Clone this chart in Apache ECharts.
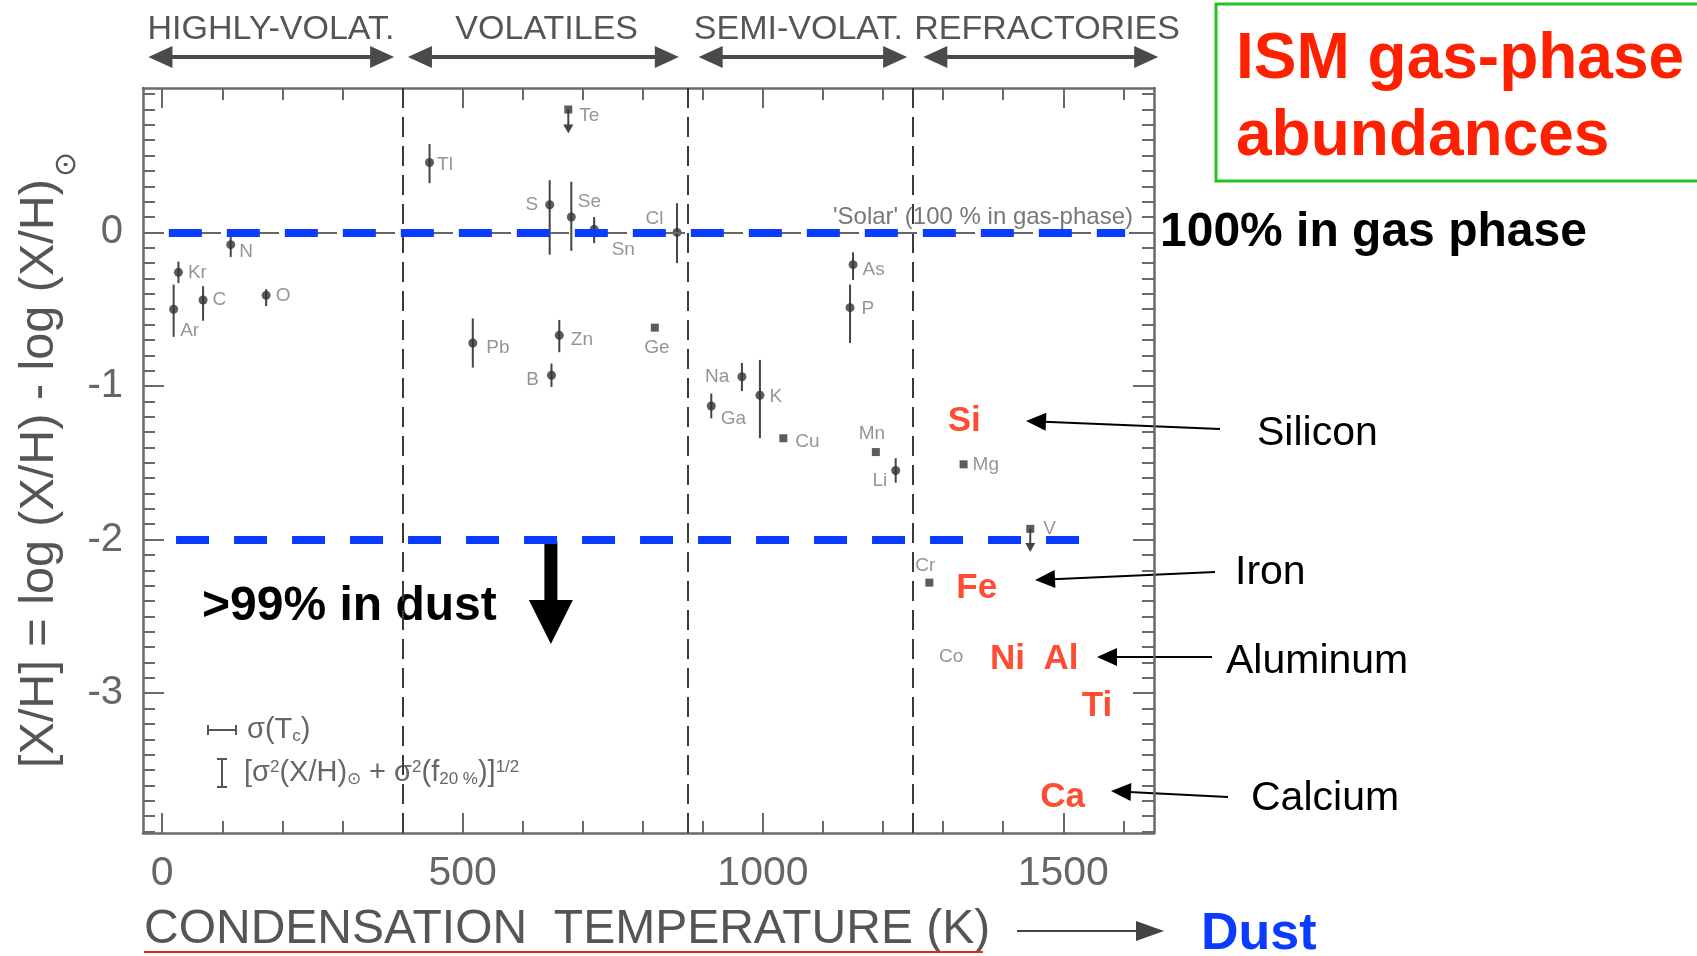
<!DOCTYPE html>
<html>
<head>
<meta charset="utf-8">
<script src="https://cdn.jsdelivr.net/npm/echarts@6/dist/echarts.min.js"></script>
<style>
  html, body { margin: 0; padding: 0; background: #ffffff; }
  #chart { width: 1697px; height: 956px; }
</style>
</head>
<body>
<div id="chart"></div>
<script>
// ---- Gas-phase abundances versus condensation temperature ----
const elements = ['Ar', 'Kr', 'C', 'N', 'O', 'Tl', 'Te', 'S', 'Se', 'Sn', 'Cl', 'Pb', 'Zn', 'B', 'Ge',
                  'Na', 'Ga', 'K', 'Cu', 'As', 'P', 'Mn', 'Li', 'Mg', 'V', 'Cr', 'Co'];
// condensation temperature (K)
const tc = [19, 27, 68, 114, 173, 445, 676, 645, 681, 719, 857, 517, 661, 648, 820,
            965, 914, 995, 1034, 1150, 1145, 1188, 1221, 1334, 1445, 1277, 1352];
// [X/H] = log(X/H) - log(X/H)_sun
const abund = [-0.50, -0.26, -0.44, -0.08, -0.41, 0.455, 0.80, 0.18, 0.10, 0.02, 0.00, -0.72, -0.67, -0.93, -0.62,
               -0.94, -1.13, -1.06, -1.34, -0.21, -0.49, -1.43, -1.55, -1.51, -1.93, -2.28, -2.76];
// error bar half-lengths (null: no error bar drawn)
const errUp   = [0.16, 0.07, 0.09, 0.05, 0.04, 0.12, null, 0.16, 0.23, 0.08, 0.19, 0.16, 0.10, 0.076, null,
                 0.09, 0.08, 0.23, null, 0.08, 0.15, null, 0.08, null, null, null, null];
const errDown = [0.18, 0.07, 0.135, 0.08, 0.07, 0.135, null, 0.325, 0.22, 0.09, 0.20, 0.16, 0.11, 0.076, null,
                 0.093, 0.08, 0.28, null, 0.10, 0.23, null, 0.08, null, null, null, null];
// upper limits (arrow down to tip value)
const limitElements = ['Te', 'V'];
const limitTip = [0.644, -2.08];
// points whose marker is hidden behind an overlying label
const hiddenMarkers = ['Co'];

// elements mostly locked up in dust
const dustElements = ['Si', 'Fe', 'Ni', 'Al', 'Ti', 'Ca'];
const dustTc = [1335, 1356, 1407, 1496, 1556, 1499];
const dustAbund = [-1.228, -2.318, -2.778, -2.778, -3.088, -3.678];

// volatility classes along the top
const zoneNames = ['HIGHLY-VOLAT.', 'VOLATILES', 'SEMI-VOLAT.', 'REFRACTORIES'];
const zoneFrom = [-23, 409, 893, 1267];
const zoneTo = [386, 860, 1240, 1658];
const zoneLabelAt = [181, 640, 1059, 1473];
const zoneBounds = [400, 875, 1250];

// reference levels: 100 % in gas phase and 1 % in gas phase
const gasLevel = 0, gasSpan = [11, 1603];
const dustLevel = -2, dustSpan = [23, 1533];

// axis ticks
const xTicks = [0, 500, 1000, 1500];
const yTicks = [-3, -2, -1, 0];
const xMinor = [];
for (let v = 0; v <= 1600; v += 100) xMinor.push(v);
const yMinor = [];
for (let i = -39; i <= 9; i++) yMinor.push(i / 10);

// ---- layout / style ----
const FONT = '"Liberation Sans", Arial, Helvetica, sans-serif';
const FRAME = '#6a6a6a';
const RED = '#ff2000';
const BLUE = '#0a3cff';

const labelSpec = {
  Ar: ['right', [-3, 22]], Kr: ['right', [0, 0]], C: ['right', [0, 0]], N: ['right', [-1, 7]],
  O: ['right', [0, 0]], Tl: ['right', [-2, 2]], Te: ['right', [2, 6]], S: ['left', [-2, 0]],
  Se: ['right', [-3, -15]], Sn: ['right', [8, 20]], Cl: ['left', [-4, -14]], Pb: ['right', [4, 5]],
  Zn: ['right', [2, 4]], B: ['left', [-3, 5]], Ge: ['bottom', [2, 2]], Na: ['left', [-3, 0]],
  Ga: ['right', [0, 13]], K: ['right', [0, 2]], Cu: ['right', [3, 4]], As: ['right', [0, 5]],
  P: ['right', [2, 1]], Mn: ['top', [-4, 0]], Li: ['left', [1, 10]], Mg: ['right', [0, 0]],
  V: ['right', [4, 0]], Cr: ['top', [-4, 2]], Co: ['left', [-6, 0]]
};

const pointData = elements.map((el, i) => {
  const spec = labelSpec[el];
  const bare = errUp[i] === null;
  return {
    name: el,
    value: [tc[i], abund[i]],
    symbol: bare ? 'rect' : 'circle',
    symbolSize: hiddenMarkers.includes(el) ? 0 : (bare ? 8 : 9),
    label: { position: spec[0], offset: spec[1] }
  };
});

const errData = [];
elements.forEach((el, i) => {
  if (errUp[i] !== null) errData.push([tc[i], abund[i] - errDown[i], abund[i] + errUp[i]]);
});

const limitData = limitElements.map((el, k) => {
  const i = elements.indexOf(el);
  return [tc[i], abund[i], limitTip[k]];
});

const dustData = dustElements.map((el, i) => {
  const item = { name: el, value: [dustTc[i], dustAbund[i]] };
  if (el === 'Ni') {
    item.label = { backgroundColor: '#ffffff', padding: [2, 4, 2, 26], offset: [-11, 0] };
  }
  return item;
});

function xAxisDef(pos, showLine, ticks, len, labels) {
  return {
    type: 'value', min: -32, max: 1651, position: pos,
    axisLine: { show: showLine, onZero: false, lineStyle: { color: FRAME, width: 2.5 } },
    axisTick: { show: true, inside: true, length: len, customValues: ticks, lineStyle: { color: FRAME, width: 2 } },
    axisLabel: labels ? { show: true, customValues: ticks, formatter: v => String(v), fontSize: 41, color: '#666', fontFamily: FONT, margin: 20 } : { show: false },
    splitLine: { show: false }, minorTick: { show: false }
  };
}
function yAxisDef(pos, showLine, ticks, len, labels) {
  return {
    type: 'value', min: -3.91, max: 0.94, position: pos,
    axisLine: { show: showLine, onZero: false, lineStyle: { color: FRAME, width: 2.5 } },
    axisTick: { show: true, inside: true, length: len, customValues: ticks, lineStyle: { color: FRAME, width: 2 } },
    axisLabel: labels ? { show: true, customValues: ticks, formatter: v => String(v), fontSize: 40, color: '#666', fontFamily: FONT, margin: 20 } : { show: false },
    splitLine: { show: false }, minorTick: { show: false }
  };
}

const chart = echarts.init(document.getElementById('chart'), null, { renderer: 'canvas', width: 1697, height: 956 });

chart.setOption({
  animation: false,
  backgroundColor: '#ffffff',
  grid: { left: 143, right: 543, top: 88, bottom: 123, containLabel: false },
  xAxis: [
    xAxisDef('bottom', true, xTicks, 20, true),
    xAxisDef('top', true, xTicks, 20, false),
    xAxisDef('bottom', false, xMinor, 12, false),
    xAxisDef('top', false, xMinor, 12, false)
  ],
  yAxis: [
    yAxisDef('left', true, yTicks, 21, true),
    yAxisDef('right', true, yTicks, 21, false),
    yAxisDef('left', false, yMinor, 12, false),
    yAxisDef('right', false, yMinor, 12, false)
  ],
  series: [
    {
      // error bars
      type: 'custom', z: 2, silent: true,
      data: errData,
      encode: { x: 0, y: [1, 2] },
      renderItem: function (params, api) {
        const p1 = api.coord([api.value(0), api.value(1)]);
        const p2 = api.coord([api.value(0), api.value(2)]);
        return { type: 'line', shape: { x1: p1[0], y1: p1[1], x2: p2[0], y2: p2[1] },
                 style: { stroke: '#444', lineWidth: 2 } };
      }
    },
    {
      // upper limits
      type: 'custom', z: 2, silent: true,
      data: limitData,
      encode: { x: 0, y: [1, 2] },
      renderItem: function (params, api) {
        const p1 = api.coord([api.value(0), api.value(1)]);
        const p2 = api.coord([api.value(0), api.value(2)]);
        return { type: 'group', children: [
          { type: 'line', shape: { x1: p1[0], y1: p1[1], x2: p2[0], y2: p2[1] - 8 }, style: { stroke: '#444', lineWidth: 2 } },
          { type: 'polygon', shape: { points: [[p2[0] - 5, p2[1] - 9], [p2[0] + 5, p2[1] - 9], [p2[0], p2[1]]] }, style: { fill: '#444' } }
        ] };
      }
    },
    {
      // measured elements
      type: 'scatter', z: 3,
      data: pointData,
      itemStyle: { color: '#333' },
      label: { show: true, formatter: '{b}', fontSize: 19, color: '#7a7a7a', fontFamily: FONT, distance: 5 },
      markLine: {
        silent: true, symbol: ['none', 'none'], label: { show: false }, animation: false,
        lineStyle: { color: '#3a3a3a', width: 2, type: [20, 9] },
        data: zoneBounds.map(v => ({ xAxis: v })).concat([{ yAxis: gasLevel, lineStyle: { color: '#666', width: 2, type: [20, 9] } }])
      }
    },
    {
      // highlighted refractory elements
      type: 'scatter', z: 4, symbolSize: 0,
      data: dustData,
      label: { show: true, position: 'inside', formatter: '{b}', fontSize: 35, fontWeight: 'bold', color: RED, fontFamily: FONT }
    },
    {
      // reference levels
      type: 'line', z: 5, data: [],
      markLine: {
        silent: true, symbol: ['none', 'none'], label: { show: false }, animation: false,
        lineStyle: { color: BLUE, width: 8, type: [33, 25], cap: 'butt' },
        data: [
          [{ coord: [gasSpan[0], gasLevel] }, { coord: [gasSpan[1], gasLevel] }],
          [{ coord: [dustSpan[0], dustLevel] }, { coord: [dustSpan[1], dustLevel] }]
        ]
      }
    }
  ]
});

// ---- annotations ----
function arrow(x1, y1, x2, y2, width, headLen, headHalf, color) {
  const dx = x2 - x1, dy = y2 - y1, L = Math.hypot(dx, dy);
  const ux = dx / L, uy = dy / L;
  const bx = x2 - ux * headLen, by = y2 - uy * headLen;
  return [
    { type: 'line', silent: true, shape: { x1: x1, y1: y1, x2: bx + ux * 2, y2: by + uy * 2 }, style: { stroke: color, lineWidth: width } },
    { type: 'polygon', silent: true, shape: { points: [[x2, y2], [bx - uy * headHalf, by + ux * headHalf], [bx + uy * headHalf, by - ux * headHalf]] }, style: { fill: color } }
  ];
}
// y is the centre of the capital letters
function text(x, y, str, size, color, opts) {
  const rotated = opts && opts.el && opts.el.rotation;
  return Object.assign({
    type: 'text', x: x, y: rotated ? y : y + 0.085 * size, silent: true,
    style: Object.assign({ text: str, fontSize: size, fill: color, fontFamily: FONT, align: 'left', verticalAlign: 'middle' }, (opts && opts.style) || {})
  }, (opts && opts.el) || {});
}

const px = v => chart.convertToPixel({ gridIndex: 0 }, [v, 0])[0];
const py = v => chart.convertToPixel({ gridIndex: 0 }, [0, v])[1];

const g = [];

// volatility classes with double arrows
zoneNames.forEach((name, i) => {
  const a = px(zoneFrom[i]), b = px(zoneTo[i]);
  g.push(text(px(zoneLabelAt[i]), 27, name, 34, '#555', { style: { align: 'center' } }));
  g.push({ type: 'line', silent: true, shape: { x1: a + 20, y1: 57, x2: b - 20, y2: 57 }, style: { stroke: '#4a4a4a', lineWidth: 4 } });
  g.push({ type: 'polygon', silent: true, shape: { points: [[a, 57], [a + 24, 46], [a + 24, 68]] }, style: { fill: '#4a4a4a' } });
  g.push({ type: 'polygon', silent: true, shape: { points: [[b, 57], [b - 24, 46], [b - 24, 68]] }, style: { fill: '#4a4a4a' } });
});

// solar reference label
g.push(text(px(1616), py(gasLevel) - 17, "'Solar' (100 % in gas-phase)", 24, '#777', { style: { align: 'right' } }));

// error legend
g.push({ type: 'line', silent: true, shape: { x1: 207, y1: 730, x2: 237, y2: 730 }, style: { stroke: '#555', lineWidth: 2 } });
g.push({ type: 'line', silent: true, shape: { x1: 208, y1: 725, x2: 208, y2: 735 }, style: { stroke: '#555', lineWidth: 2 } });
g.push({ type: 'line', silent: true, shape: { x1: 236, y1: 725, x2: 236, y2: 735 }, style: { stroke: '#555', lineWidth: 2 } });
g.push({ type: 'line', silent: true, shape: { x1: 222, y1: 759, x2: 222, y2: 787 }, style: { stroke: '#555', lineWidth: 2 } });
g.push({ type: 'line', silent: true, shape: { x1: 217, y1: 759, x2: 227, y2: 759 }, style: { stroke: '#555', lineWidth: 2 } });
g.push({ type: 'line', silent: true, shape: { x1: 217, y1: 787, x2: 227, y2: 787 }, style: { stroke: '#555', lineWidth: 2 } });
const legRich = {
  sub: { fontSize: 17, fill: '#666', verticalAlign: 'bottom', fontFamily: FONT },
  sup: { fontSize: 17, fill: '#666', verticalAlign: 'top', fontFamily: FONT }
};
g.push(text(247, 728, 'σ(T{sub|c})', 29, '#666', { style: { rich: legRich } }));
g.push(text(244, 771, '[σ{sup|2}(X/H){sub|⊙} + σ{sup|2}(f{sub|20 %})]{sup|1/2}', 29, '#666', { style: { rich: legRich } }));

// axis titles
g.push(text(40, 460, '[X/H] = log (X/H) - log (X/H){s|⊙}', 48.5, '#555', {
  style: { align: 'center', lineHeight: 84, rich: { s: { fontSize: 30, fill: '#555', verticalAlign: 'bottom', fontFamily: FONT, padding: [0, 0, 0, 2] } } },
  el: { rotation: Math.PI / 2 }
}));
g.push(text(144, 926, 'CONDENSATION  TEMPERATURE (K)', 48, '#555'));
g.push({ type: 'line', silent: true, shape: { x1: 144, y1: 952, x2: 983, y2: 952 }, style: { stroke: '#e0301a', lineWidth: 2 } });
arrow(1017, 931, 1164, 931, 2, 28, 10, '#444').forEach(e => g.push(e));
g.push(text(1201, 930, 'Dust', 52, BLUE, { style: { fontWeight: 'bold' } }));

// level captions
g.push(text(1160, 229, '100% in gas phase', 48, '#000', { style: { fontWeight: 'bold' } }));
g.push(text(202, 603, '>99% in dust', 48, '#000', { style: { fontWeight: 'bold' } }));
// arrow pointing down from the 1 % level
const arrowX = px(647);
g.push({ type: 'rect', silent: true, shape: { x: arrowX - 6.5, y: py(dustLevel) + 2, width: 13, height: 63 }, style: { fill: '#000' } });
g.push({ type: 'polygon', silent: true, shape: { points: [[arrowX - 22, 600], [arrowX + 22, 600], [arrowX, 644]] }, style: { fill: '#000' } });

// title box
g.push({ type: 'rect', silent: true, shape: { x: 1216, y: 4, width: 520, height: 177 }, style: { fill: 'none', stroke: '#22c322', lineWidth: 3 } });
g.push(text(1236, 55, 'ISM gas-phase', 64, RED, { style: { fontWeight: 'bold' } }));
g.push(text(1236, 132, 'abundances', 64, RED, { style: { fontWeight: 'bold' } }));

// call-outs for the refractory elements
const callouts = [
  { label: 'Silicon', tx: 1257, ty: 430, from: [1220, 429], to: [1026, 421] },
  { label: 'Iron', tx: 1235, ty: 569, from: [1215, 572], to: [1035, 580] },
  { label: 'Aluminum', tx: 1226, ty: 658, from: [1212, 657], to: [1097, 657] },
  { label: 'Calcium', tx: 1251, ty: 795, from: [1228, 797], to: [1111, 791] }
];
callouts.forEach(c => {
  g.push(text(c.tx, c.ty, c.label, 41, '#000'));
  arrow(c.from[0], c.from[1], c.to[0], c.to[1], 2, 20, 9, '#000').forEach(e => g.push(e));
});

chart.setOption({ graphic: g });
</script>
</body>
</html>
